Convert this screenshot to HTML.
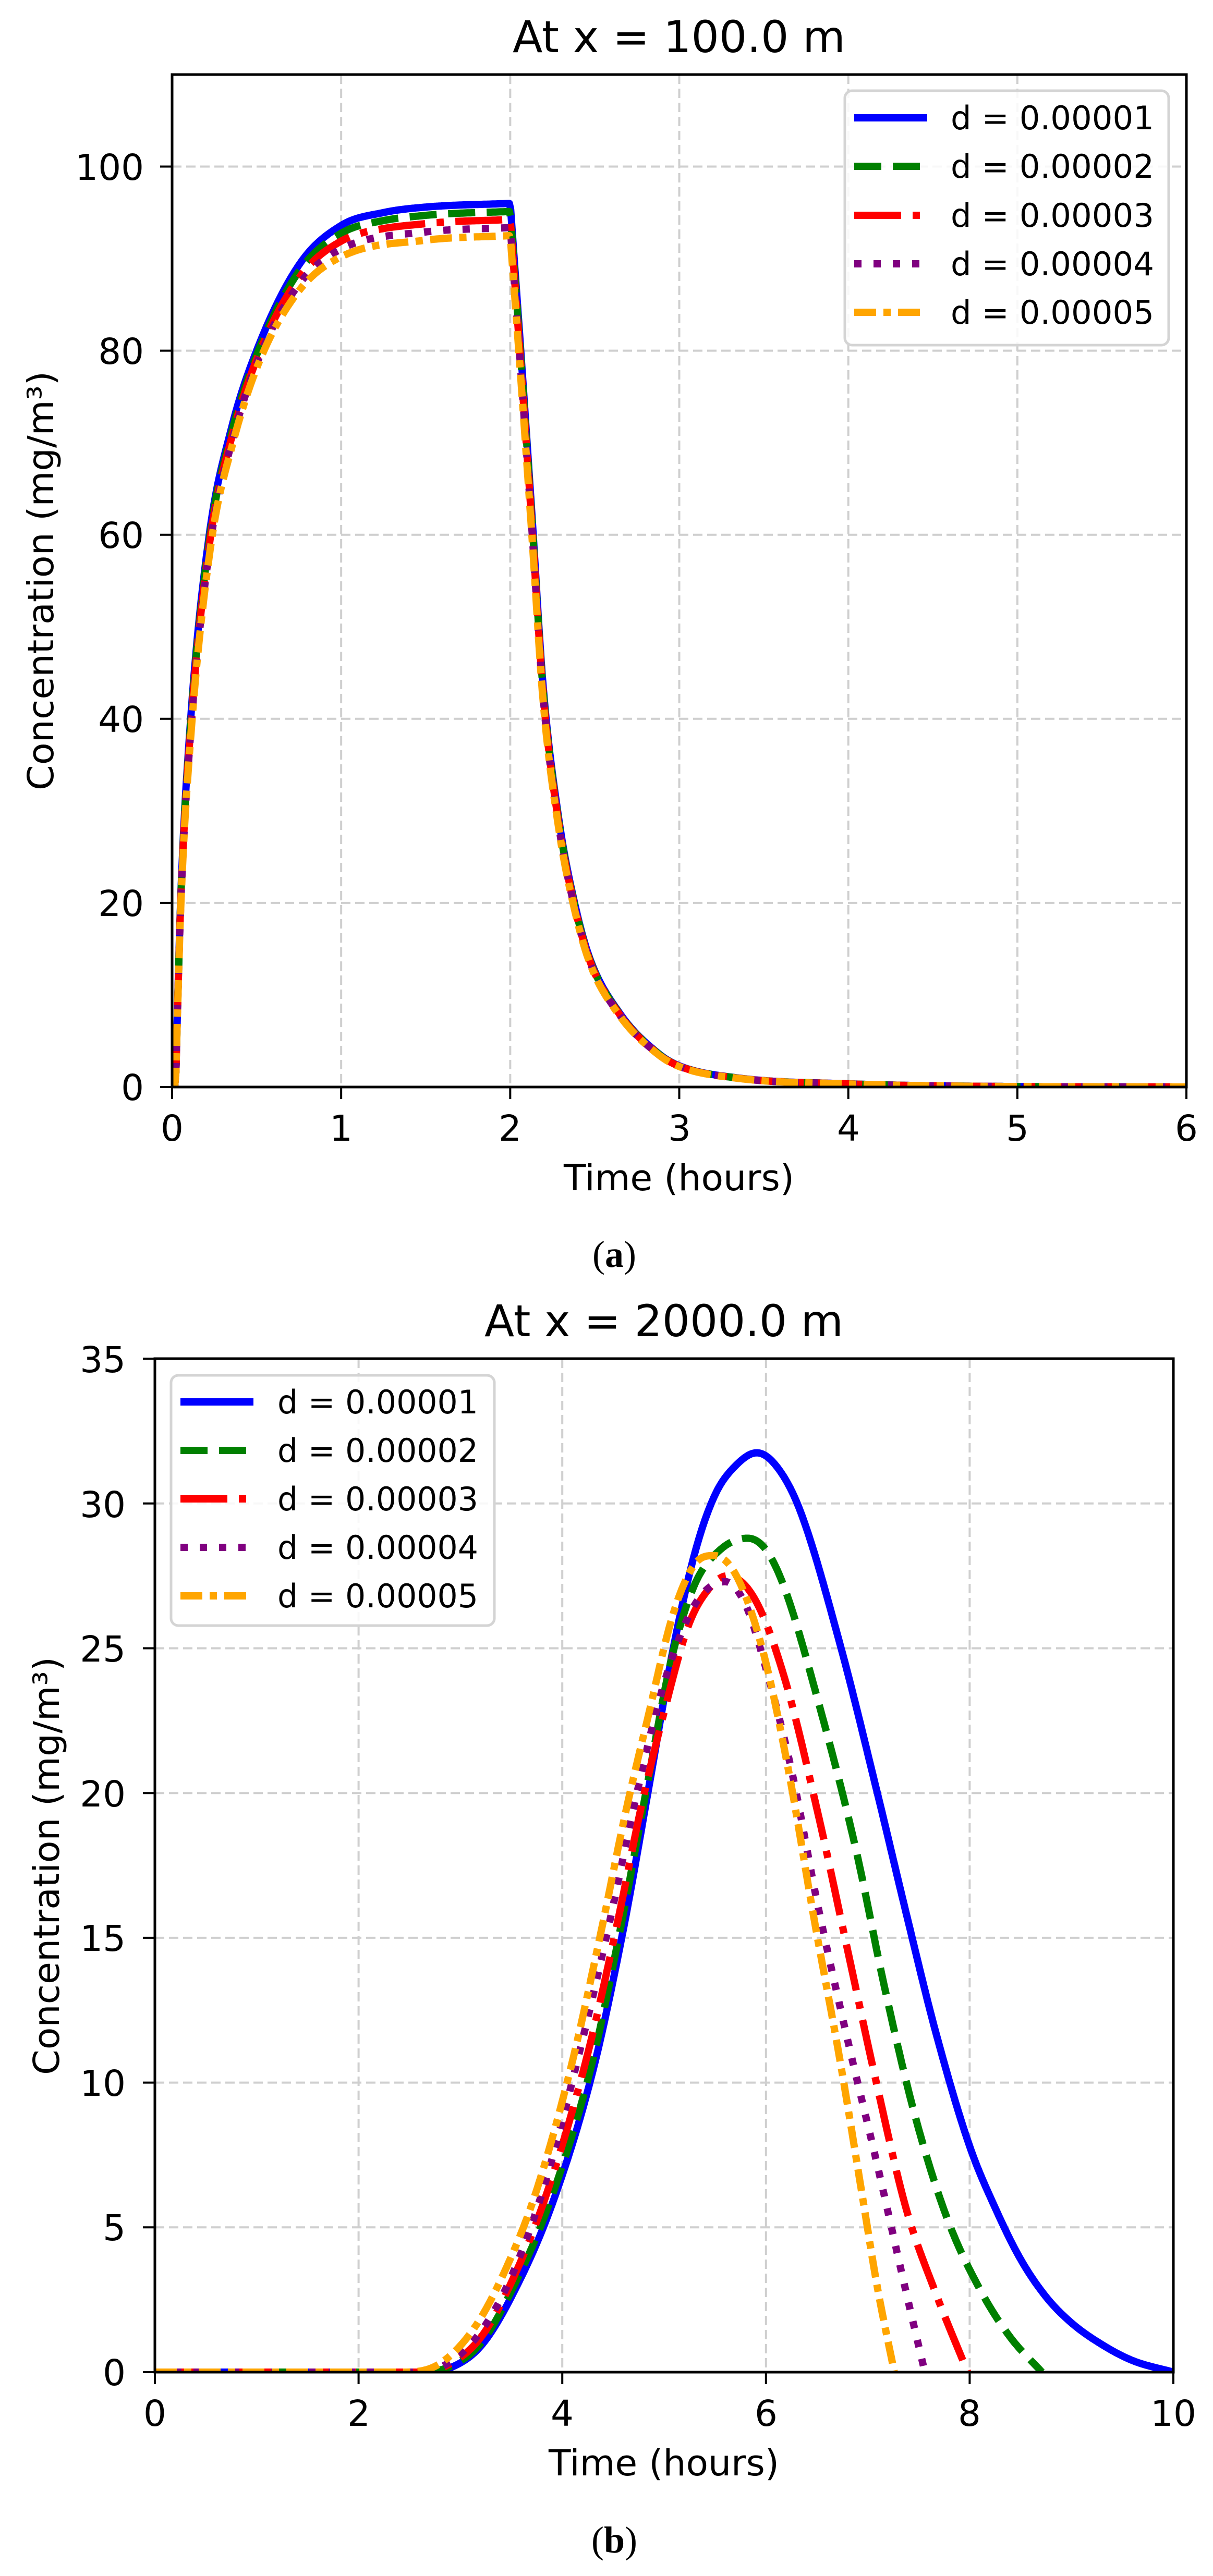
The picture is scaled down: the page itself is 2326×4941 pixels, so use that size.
<!DOCTYPE html>
<html><head><meta charset="utf-8"><style>
html,body{margin:0;padding:0;background:#fff;}
svg{display:block;}
text{font-family:"DejaVu Sans","Liberation Sans",sans-serif;fill:#000;}
.tk{font-size:69px;}
.lg{font-size:62px;}
.cap{font-family:"Liberation Serif","DejaVu Serif",serif;font-size:72px;}
</style></head><body>
<svg id="s" width="2326" height="4941" viewBox="0 0 2326 4941" xmlns="http://www.w3.org/2000/svg">
<defs>
<clipPath id="ca"><rect x="330" y="143" width="1945" height="1942"/></clipPath>
<clipPath id="cb"><rect x="297" y="2606" width="1953" height="1944"/></clipPath>
</defs>
<rect width="2326" height="4941" fill="#fff"/>
<g id="gridA" stroke="#cfcfcf" stroke-width="4" stroke-dasharray="18 9" fill="none"></g>
<g id="gridB" stroke="#cfcfcf" stroke-width="4" stroke-dasharray="18 9" fill="none"></g>
<g id="curvesA" clip-path="url(#ca)" fill="none" stroke-width="14" stroke-linejoin="round"></g>
<g id="curvesB" clip-path="url(#cb)" fill="none" stroke-width="14" stroke-linejoin="round"></g>

<rect x="330" y="143" width="1945" height="1942" fill="none" stroke="#000" stroke-width="5"/>
<g id="ticksA" stroke="#000" stroke-width="4"></g>
<text x="1302" y="100" text-anchor="middle" style="font-size:84px" textLength="638" lengthAdjust="spacingAndGlyphs">At x = 100.0 m</text>
<g class="tk" text-anchor="middle">
<text x="330" y="2188">0</text><text x="654" y="2188">1</text><text x="978" y="2188">2</text><text x="1303" y="2188">3</text><text x="1627" y="2188">4</text><text x="1951" y="2188">5</text><text x="2275" y="2188">6</text>
</g>
<g class="tk" text-anchor="end">
<text x="276" y="2110">0</text><text x="276" y="1757">20</text><text x="276" y="1404">40</text><text x="276" y="1051">60</text><text x="276" y="698">80</text><text x="276" y="345">100</text>
</g>
<text x="1302" y="2283" text-anchor="middle" style="font-size:69px" textLength="442" lengthAdjust="spacingAndGlyphs">Time (hours)</text>
<text transform="translate(102,1114) rotate(-90)" text-anchor="middle" style="font-size:69px" textLength="804" lengthAdjust="spacingAndGlyphs">Concentration (mg/m³)</text>
<rect x="1620" y="174" width="621" height="488" rx="14" fill="#fff" fill-opacity="0.85" stroke="#d4d4d4" stroke-width="5"/>
<g id="legA"></g>
<g class="lg">
<text x="1823" y="248" textLength="390" lengthAdjust="spacingAndGlyphs">d = 0.00001</text>
<text x="1823" y="341" textLength="390" lengthAdjust="spacingAndGlyphs">d = 0.00002</text>
<text x="1823" y="435" textLength="390" lengthAdjust="spacingAndGlyphs">d = 0.00003</text>
<text x="1823" y="528" textLength="390" lengthAdjust="spacingAndGlyphs">d = 0.00004</text>
<text x="1823" y="621" textLength="390" lengthAdjust="spacingAndGlyphs">d = 0.00005</text>
</g>
<text x="1178" y="2430" text-anchor="middle" class="cap">(<tspan font-weight="bold">a</tspan>)</text>

<rect x="297" y="2606" width="1953" height="1944" fill="none" stroke="#000" stroke-width="5"/>
<g id="ticksB" stroke="#000" stroke-width="4"></g>
<text x="1273" y="2563" text-anchor="middle" style="font-size:84px" textLength="688" lengthAdjust="spacingAndGlyphs">At x = 2000.0 m</text>
<g class="tk" text-anchor="middle">
<text x="297" y="4653">0</text><text x="688" y="4653">2</text><text x="1078" y="4653">4</text><text x="1469" y="4653">6</text><text x="1859" y="4653">8</text><text x="2250" y="4653">10</text>
</g>
<g class="tk" text-anchor="end">
<text x="241" y="4575">0</text><text x="241" y="4297">5</text><text x="241" y="4020">10</text><text x="241" y="3742">15</text><text x="241" y="3465">20</text><text x="241" y="3187">25</text><text x="241" y="2910">30</text><text x="241" y="2632">35</text>
</g>
<text x="1273" y="4748" text-anchor="middle" style="font-size:69px" textLength="442" lengthAdjust="spacingAndGlyphs">Time (hours)</text>
<text transform="translate(113,3579) rotate(-90)" text-anchor="middle" style="font-size:69px" textLength="802" lengthAdjust="spacingAndGlyphs">Concentration (mg/m³)</text>
<rect x="328" y="2638" width="620" height="480" rx="14" fill="#fff" fill-opacity="0.85" stroke="#d4d4d4" stroke-width="5"/>
<g id="legB"></g>
<g class="lg">
<text x="532" y="2711" textLength="385" lengthAdjust="spacingAndGlyphs">d = 0.00001</text>
<text x="532" y="2804" textLength="385" lengthAdjust="spacingAndGlyphs">d = 0.00002</text>
<text x="532" y="2897" textLength="385" lengthAdjust="spacingAndGlyphs">d = 0.00003</text>
<text x="532" y="2990" textLength="385" lengthAdjust="spacingAndGlyphs">d = 0.00004</text>
<text x="532" y="3083" textLength="385" lengthAdjust="spacingAndGlyphs">d = 0.00005</text>
</g>
<text x="1178" y="4896" text-anchor="middle" class="cap">(<tspan font-weight="bold">b</tspan>)</text>
</svg>
<script>
(function(){
var NS="http://www.w3.org/2000/svg";
function el(p,tag,a){var e=document.createElementNS(NS,tag);for(var k in a)e.setAttribute(k,a[k]);p.appendChild(e);return e;}
var cols=["#0000ff","#008000","#ff0000","#800080","#ffa500"];
var dashes=["none","52 22","90 22 14 22","14 23","42 14 14 14"];
function mono(pts){
  var n=pts.length,xs=pts.map(p=>p[0]),ys=pts.map(p=>p[1]),d=[],m=[];
  for(var i=0;i<n-1;i++)d.push((ys[i+1]-ys[i])/(xs[i+1]-xs[i]));
  m[0]=d[0];m[n-1]=d[n-2];
  for(i=1;i<n-1;i++){ if(d[i-1]*d[i]<=0)m[i]=0; else m[i]=(d[i-1]+d[i])/2; }
  for(i=0;i<n-1;i++){ if(d[i]===0){m[i]=0;m[i+1]=0;continue;}
    var a=m[i]/d[i],b=m[i+1]/d[i],s=a*a+b*b; if(s>9){var t=3/Math.sqrt(s);m[i]=t*a*d[i];m[i+1]=t*b*d[i];} }
  return function(x){
    if(x<=xs[0])return ys[0]; if(x>=xs[n-1])return ys[n-1];
    var k=0;while(x>xs[k+1])k++;
    var h=xs[k+1]-xs[k],t=(x-xs[k])/h,t2=t*t,t3=t2*t;
    return (2*t3-3*t2+1)*ys[k]+(t3-2*t2+t)*h*m[k]+(-2*t3+3*t2)*ys[k+1]+(t3-t2)*h*m[k+1];
  };
}
function draw(g,f,t0,t1,X,Y,i){
  var s="",N=800;
  for(var j=0;j<=N;j++){var t=t0+(t1-t0)*j/N;s+=(j?"L":"M")+X(t).toFixed(1)+" "+Y(f(t)).toFixed(1);}
  var a={d:s,stroke:cols[i]};if(dashes[i]!="none")a["stroke-dasharray"]=dashes[i];
  el(g,"path",a);
}
var XA=t=>330+324.17*t, YA=v=>2085-17.655*v;
var gA=document.getElementById("gridA");
for(var i=1;i<6;i++)el(gA,"line",{x1:XA(i),x2:XA(i),y1:143,y2:2085});
for(i=1;i<=5;i++)el(gA,"line",{x1:330,x2:2275,y1:YA(20*i),y2:YA(20*i)});
var tA=document.getElementById("ticksA");
for(i=0;i<=6;i++)el(tA,"line",{x1:XA(i),x2:XA(i),y1:2085,y2:2108});
for(i=0;i<=5;i++)el(tA,"line",{x1:307,x2:330,y1:YA(20*i),y2:YA(20*i)});
var riseB=mono([[0.02,0],[0.05,20],[0.11,40],[0.22,60],[0.35,71.5],[0.5,80],[0.75,89.3],[1,93.6],[1.25,95],[1.5,95.6],[2,96]]);
var riseO=mono([[0.02,0],[0.05,19],[0.11,38],[0.23,59],[0.36,70],[0.52,79],[0.75,86.5],[1,90.2],[1.5,92],[2,92.5]]);
var dec=mono([[2,1],[2.06,0.84],[2.13,0.643],[2.195,0.453],[2.29,0.30],[2.38,0.209],[2.47,0.146],[2.65,0.083],[2.88,0.0375],[3.0,0.024],[3.34,0.0104],[4,0.0036],[5,0.0005],[6,0]]);
var peaks=[96,95.1,94.2,93.5,92.5];
var cA=document.getElementById("curvesA");
for(i=0;i<5;i++){(function(i){
  var w=i/4,P=peaks[i];
  var f=function(t){ if(t<0.02)return 0; if(t<=2){return riseB(t)*(1-w)+riseO(t)*w;} return P*dec(t);};
  draw(cA,f,0,6,XA,YA,i);
})(i);}
var XB=t=>297+195.3*t, YB=v=>4550-55.54*v;
var gB=document.getElementById("gridB");
for(i=1;i<5;i++)el(gB,"line",{x1:XB(2*i),x2:XB(2*i),y1:2606,y2:4550});
for(i=1;i<=6;i++)el(gB,"line",{x1:297,x2:2250,y1:YB(5*i),y2:YB(5*i)});
var tB=document.getElementById("ticksB");
for(i=0;i<=5;i++)el(tB,"line",{x1:XB(2*i),x2:XB(2*i),y1:4550,y2:4573});
for(i=0;i<=7;i++)el(tB,"line",{x1:274,x2:297,y1:YB(5*i),y2:YB(5*i)});
var S=[
[[0,0],[2.6,0],[2.9,0.15],[3.2,0.9],[3.5,2.6],[3.9,5.8],[4.3,10.4],[4.6,15.3],[4.85,20.2],[5.09,25.0],[5.31,28.4],[5.5,30.3],[5.7,31.3],[5.91,31.75],[6.1,31.3],[6.33,29.8],[6.73,25.1],[7.09,20.05],[7.38,15.8],[7.67,11.7],[8.0,7.8],[8.26,5.6],[8.5,3.9],[8.75,2.6],[9.0,1.7],[9.3,0.95],[9.6,0.4],[10,0]],
[[0,0],[2.6,0],[2.9,0.2],[3.2,1.0],[3.5,2.8],[3.87,5.8],[4.28,10.5],[4.57,15.3],[4.82,20.0],[5.07,24.6],[5.3,27.2],[5.55,28.4],[5.82,28.8],[6.0,28.4],[6.18,27.1],[6.51,23.2],[6.88,18.1],[7.17,13.2],[7.46,8.9],[7.78,5.3],[8.11,2.8],[8.4,1.2],[8.71,0]],
[[0,0],[2.55,0],[2.85,0.2],[3.2,1.2],[3.5,3.1],[3.85,6.2],[4.25,11.0],[4.54,15.5],[4.78,19.6],[5.0,22.8],[5.24,25.8],[5.45,27.1],[5.62,27.5],[5.89,26.7],[6.18,24.0],[6.51,19.3],[6.80,14.6],[7.09,9.9],[7.38,5.6],[7.67,2.7],[7.98,0]],
[[0,0],[2.5,0],[2.85,0.25],[3.2,1.4],[3.5,3.3],[3.82,6.4],[4.2,11.5],[4.48,15.8],[4.72,19.8],[5.0,23.8],[5.3,26.5],[5.6,27.3],[5.8,26.5],[6.0,24.3],[6.25,20.8],[6.51,16.1],[6.80,11.5],[7.09,7.2],[7.38,2.7],[7.56,0]],
[[0,0],[2.45,0],[2.8,0.3],[3.15,1.6],[3.45,3.6],[3.74,6.2],[4.09,10.6],[4.38,15.2],[4.62,19.3],[4.84,22.6],[5.09,26.2],[5.3,27.9],[5.49,28.2],[5.71,27.5],[5.97,24.9],[6.22,20.8],[6.47,15.7],[6.73,10.7],[6.95,6.0],[7.09,3.0],[7.26,0]]
];
var cB=document.getElementById("curvesB");
for(i=0;i<5;i++){var f=mono(S[i]);draw(cB,f,0,S[i][S[i].length-1][0],XB,YB,i);}
var lA=document.getElementById("legA"),lB=document.getElementById("legB");
var yA=[226,319,413,506,599],yB=[2689,2782,2875,2968,3061];
for(i=0;i<5;i++){
  var a={x1:1638,x2:1778,y1:yA[i],y2:yA[i],stroke:cols[i],"stroke-width":14};
  if(dashes[i]!="none")a["stroke-dasharray"]=dashes[i];
  el(lA,"line",a);
  var b={x1:346,x2:486,y1:yB[i],y2:yB[i],stroke:cols[i],"stroke-width":14};
  if(dashes[i]!="none")b["stroke-dasharray"]=dashes[i];
  el(lB,"line",b);
}
})();
</script>
</body></html>
